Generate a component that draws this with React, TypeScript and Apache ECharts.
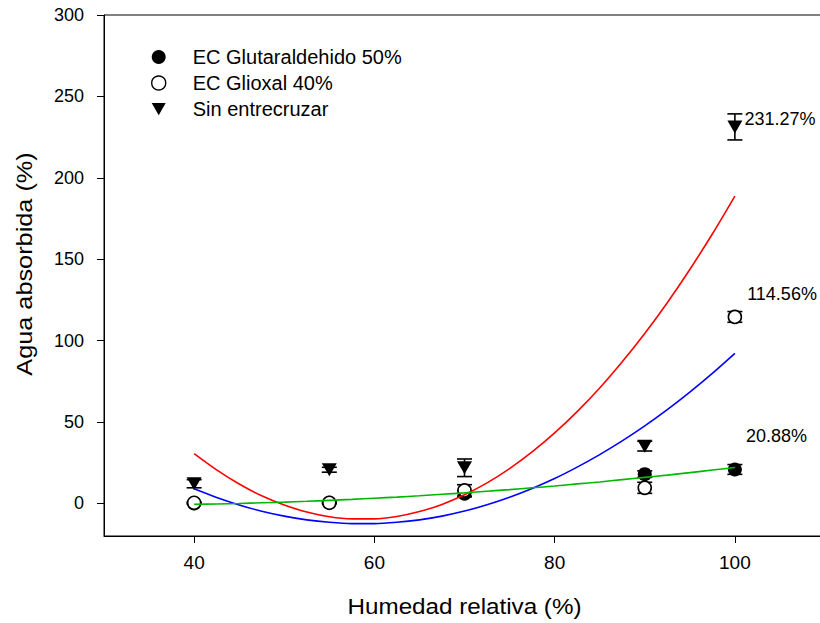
import React, { useEffect, useRef } from "react";
import * as echarts from "echarts";

// Measured data (relative humidity %, absorbed water %)
const humedad = [40, 55, 70, 90, 100];
const glutaraldehido = [0, 0.4, 6, 18, 20.88];
const glutaraldehidoErr = [0.5, 0.5, 2, 2, 3];
const glioxal = [0.4, 0.4, 8, 9.6, 114.56];
const glioxalErr = [0.5, 0.5, 3.5, 3.4, 3.3];
const sinEntrecruzar = [12.1, 20.7, 21.9, 35.2, 231.27];
const sinEntrecruzarErr = [2.5, 1.5, 5.4, 3, 8];

// Regression curves
const fitX = [40, 42.5, 45, 47.5, 50, 52.5, 55, 57.5, 60, 62.5, 65, 67.5, 70, 72.5, 75, 77.5, 80, 82.5, 85, 87.5, 90, 92.5, 95, 97.5, 100];
const fitSin = [30.6, 20.6, 11.9, 4.7, -1.0, -5.3, -8.2, -9.5, -9.5, -8.0, -5.0, -0.6, 5.3, 12.6, 21.4, 31.6, 43.3, 56.4, 70.9, 87.0, 104.4, 123.3, 143.7, 165.5, 188.8];
const fitGlioxal = [9.0, 3.7, -0.9, -4.8, -7.8, -10.1, -11.6, -12.4, -12.4, -11.6, -10.1, -7.8, -4.7, -0.8, 3.8, 9.2, 15.3, 22.3, 30.0, 38.4, 47.6, 57.6, 68.4, 79.9, 92.2];
const fitGluta = [-0.6, -0.3, 0.0, 0.4, 0.8, 1.3, 1.9, 2.5, 3.2, 3.9, 4.7, 5.6, 6.5, 7.5, 8.5, 9.6, 10.7, 12.0, 13.2, 14.6, 16.0, 17.4, 18.9, 20.5, 22.1];

const xTicks = [40, 60, 80, 100];
const yTicks = [0, 50, 100, 150, 200, 250, 300];

const seriesNames = ["EC Glutaraldehido 50%", "EC Glioxal 40%", "Sin entrecruzar"];

const FONT = "'Liberation Sans', Arial, Helvetica, sans-serif";

function pointData(vals: number[], labelOffset: number[]) {
  return humedad.map((x, i) => {
    const item: any = { value: [x, vals[i]] };
    if (i === humedad.length - 1) {
      item.label = {
        show: true,
        position: "right",
        distance: 4,
        offset: labelOffset,
        formatter: (p: any) => p.value[1].toFixed(2) + "%",
        color: "#000",
        fontSize: 18,
        fontFamily: FONT,
      };
    }
    return item;
  });
}

function errData(vals: number[], errs: number[]) {
  return humedad.map((x, i) => [x, vals[i] - errs[i], vals[i] + errs[i]]);
}

function errorSeries(vals: number[], errs: number[]) {
  return {
    type: "custom",
    z: 2,
    silent: true,
    encode: { x: 0, y: [1, 2] },
    data: errData(vals, errs),
    renderItem: (params: any, api: any) => {
      const x = api.value(0);
      const lo = api.coord([x, api.value(1)]);
      const hi = api.coord([x, api.value(2)]);
      const hw = 7.5;
      const st = { stroke: "#000", lineWidth: 1.6 };
      return {
        type: "group",
        children: [
          { type: "line", shape: { x1: lo[0], y1: lo[1], x2: hi[0], y2: hi[1] }, style: st },
          { type: "line", shape: { x1: lo[0] - hw, y1: lo[1], x2: lo[0] + hw, y2: lo[1] }, style: st },
          { type: "line", shape: { x1: hi[0] - hw, y1: hi[1], x2: hi[0] + hw, y2: hi[1] }, style: st },
        ],
      };
    },
  };
}

function fitSeries(vals: number[], color: string) {
  return {
    type: "line",
    z: 5,
    silent: true,
    smooth: 0.3,
    showSymbol: false,
    symbol: "none",
    data: fitX.map((x, i) => [x, vals[i]]),
    lineStyle: { color, width: 1.6 },
  };
}

export default function App() {
  const ref = useRef<HTMLDivElement>(null);

  useEffect(() => {
    if (!ref.current) return;
    const chart = echarts.init(ref.current, null, { renderer: "svg" });
    const option: any = {
      animation: false,
      backgroundColor: "#fff",
      grid: {
        left: 104,
        top: 15,
        right: 0,
        bottom: 87,
        show: true,
        borderColor: "#000",
        borderWidth: 1,
        containLabel: false,
      },
      legend: {
        data: [
          { name: seriesNames[0], icon: "circle" },
          { name: seriesNames[1], icon: "circle", itemStyle: { borderWidth: 1.4 } },
          { name: seriesNames[2], icon: "path://M0,0 L16,0 L8,14 Z" },
        ],
        orient: "vertical",
        left: 146,
        top: 42,
        itemWidth: 14,
        itemHeight: 14,
        itemGap: 6,
        textStyle: { color: "#000", fontSize: 20, fontFamily: FONT, padding: [0, 0, 0, 22] },
      },
      xAxis: {
        type: "value",
        min: 30,
        max: 110,
        axisLine: { show: true, onZero: false, lineStyle: { color: "#000", width: 1 } },
        axisTick: { show: true, length: 7, customValues: xTicks, lineStyle: { color: "#000" } },
        axisLabel: { customValues: xTicks, margin: 17, color: "#000", fontSize: 19, fontFamily: FONT },
        splitLine: { show: false },
      },
      yAxis: {
        type: "value",
        min: -20,
        max: 300,
        axisLine: { show: true, onZero: false, lineStyle: { color: "#000", width: 1 } },
        axisTick: { show: true, length: 7, customValues: yTicks, lineStyle: { color: "#000" } },
        axisLabel: { customValues: yTicks, margin: 20, color: "#000", fontSize: 18, fontFamily: FONT },
        splitLine: { show: false },
      },
      graphic: [
        {
          type: "text",
          x: 464.5,
          y: 606,
          scaleX: 1.1,
          style: {
            text: "Humedad relativa (%)",
            fontSize: 22,
            fontFamily: FONT,
            fill: "#000",
            align: "center",
            verticalAlign: "middle",
          },
        },
        {
          type: "text",
          x: 25,
          y: 264,
          rotation: Math.PI / 2,
          scaleX: 1.15,
          style: {
            text: "Agua absorbida (%)",
            fontSize: 22,
            fontFamily: FONT,
            fill: "#000",
            align: "center",
            verticalAlign: "middle",
          },
        },
      ],
      series: [
        errorSeries(glutaraldehido, glutaraldehidoErr),
        errorSeries(glioxal, glioxalErr),
        errorSeries(sinEntrecruzar, sinEntrecruzarErr),
        {
          name: seriesNames[0],
          type: "scatter",
          z: 3,
          symbol: "circle",
          symbolSize: 14,
          itemStyle: { color: "#000", opacity: 1 },
          data: pointData(glutaraldehido, [0, -33]),
        },
        {
          name: seriesNames[1],
          type: "scatter",
          z: 3,
          symbol: "circle",
          symbolSize: 13,
          itemStyle: { color: "#fff", borderColor: "#000", borderWidth: 1.6, opacity: 1 },
          data: pointData(glioxal, [1, -23]),
        },
        {
          name: seriesNames[2],
          type: "scatter",
          z: 3,
          symbol: "triangle",
          symbolRotate: 180,
          symbolSize: [15, 13],
          itemStyle: { color: "#000", opacity: 1 },
          data: pointData(sinEntrecruzar, [-2, -8]),
        },
        fitSeries(fitSin, "#ff0000"),
        fitSeries(fitGlioxal, "#0000ff"),
        fitSeries(fitGluta, "#00b800"),
      ],
    };
    chart.setOption(option);
    return () => chart.dispose();
  }, []);

  return (
    <div style={{ position: "fixed", left: 0, top: 0, width: 820, height: 623, overflow: "hidden", background: "#fff" }}>
      <div ref={ref} style={{ width: 825, height: 623 }} />
    </div>
  );
}
